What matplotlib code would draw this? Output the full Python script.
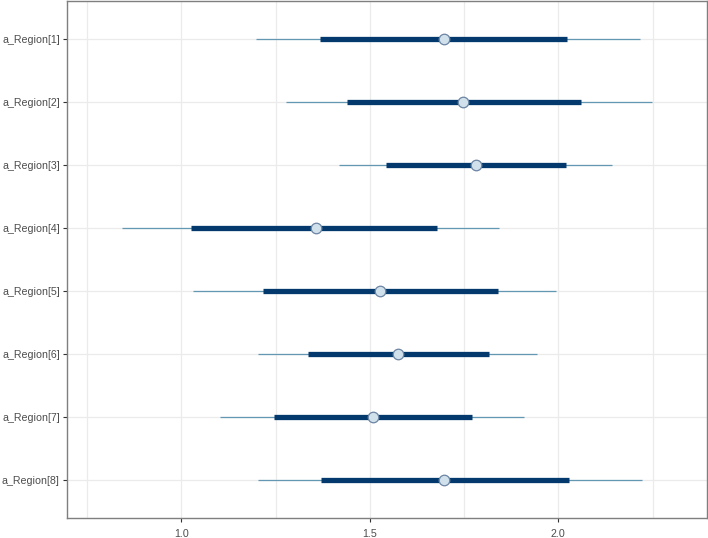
import matplotlib
matplotlib.use("Agg")
import matplotlib.pyplot as plt
import numpy as np

# parameter names and interval summaries
params = ["a_Region[1]", "a_Region[2]", "a_Region[3]", "a_Region[4]",
          "a_Region[5]", "a_Region[6]", "a_Region[7]", "a_Region[8]"]
outer_lo = [1.197, 1.277, 1.419, 0.844, 1.031, 1.203, 1.102, 1.203]
outer_hi = [2.216, 2.248, 2.143, 1.843, 1.994, 1.943, 1.908, 2.223]
inner_lo = [1.369, 1.439, 1.544, 1.025, 1.217, 1.335, 1.245, 1.371]
inner_hi = [2.024, 2.059, 2.020, 1.679, 1.839, 1.817, 1.772, 2.028]
medians = [1.696, 1.746, 1.781, 1.357, 1.528, 1.575, 1.509, 1.696]

xticks = [1.0, 1.5, 2.0]
xtick_labels = ["1.0", "1.5", "2.0"]

plt.rcParams['font.family'] = ['Liberation Sans', 'DejaVu Sans']

fig = plt.figure(figsize=(7.08, 5.38), dpi=100)
ax = fig.add_axes([67/708, 1 - 518/538, (706.5 - 67)/708, (518 - 1.3)/538])

y = np.arange(1, len(params) + 1)

ax.hlines(y, outer_lo, outer_hi, color="#6497b1", lw=0.9, zorder=3)
ax.hlines(y, inner_lo, inner_hi, color="#03396c", lw=3.8, zorder=4)
ax.plot(medians, y, "o", ms=7.6, mfc="#d1e1ec", mec="#6b84a3", mew=0.9,
        ls="none", zorder=5)

ax.set_xlim(0.697, 2.393)
ax.set_ylim(8.6, 0.4)
ax.set_yticks(y)
ax.set_yticklabels(params)
ax.set_xticks(xticks)
ax.set_xticklabels(xtick_labels)
ax.set_xticks([0.75, 1.25, 1.75, 2.25], minor=True)

ax.grid(True, which="both", color="#ebebeb", lw=0.9, zorder=0)
ax.set_axisbelow(True)
ax.tick_params(axis="both", which="major", labelsize=7.7, labelcolor="#4d4d4d",
               color="#333333", length=3, width=0.8, pad=2.2)
ax.tick_params(axis="x", which="major", pad=5)
ax.tick_params(axis="x", which="minor", length=0)
for s in ax.spines.values():
    s.set_color("#7f7f7f")
    s.set_linewidth(1.0)

fig.savefig("out.png", dpi=100)
